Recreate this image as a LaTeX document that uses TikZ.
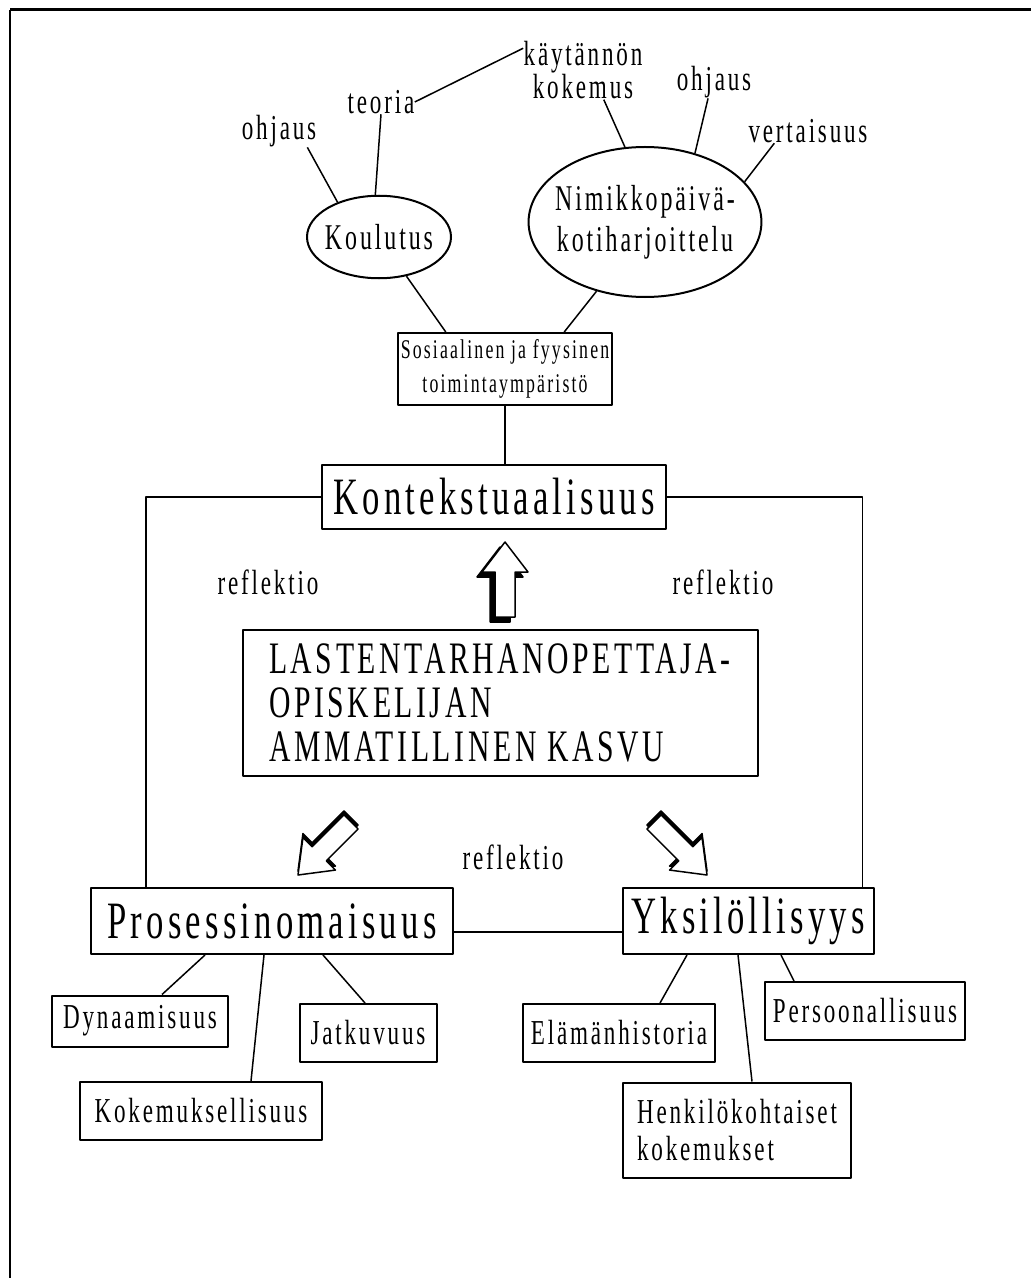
\documentclass[tikz,border=0pt]{standalone}
\usepackage{fontspec}
\setmainfont{Liberation Serif}[FakeStretch=0.66,LetterSpace=8]
\usetikzlibrary{shapes.geometric}

\tikzset{
  pics/blockarrow/.style={code={
    \draw[pic actions] (0,0) -- (23,30) -- (10,30) -- (10,75) -- (-10,75) -- (-10,30) -- (-23,30) -- cycle;
  }},
}

\begin{document}
\begin{tikzpicture}[x=0.4pt,y=-0.4pt,line join=round,
  word/.style={inner sep=0pt,font=\fontsize{14}{13.5}\selectfont,align=center},
  box/.style={draw,line width=0.8pt,inner sep=0pt,font=\fontsize{14}{15}\selectfont,align=center},
  bigbox/.style={box,font=\fontsize{21}{24}\selectfont},
  oval/.style={draw,ellipse,line width=0.8pt,inner xsep=-3pt,inner ysep=0pt,align=center},
  link/.style={line width=0.6pt}]
\useasboundingbox (0,0) rectangle (1031,1278);
% frame
\draw[line width=1.2pt] (10,10) -- (1031,10);
\draw[line width=0.7pt] (10,10) -- (10,1278);

% upper part
\node[word] (ohjL) at (279,131) {ohjaus};
\node[word] (teo) at (381,102) {teoria};
\node[word] (kayt) at (583,70) {käytännön\\kokemus};
\node[word] (ohjR) at (714,82) {ohjaus};
\node[word] (vert) at (808,131) {vertaisuus};
\node[oval,minimum width=57.6pt,minimum height=33pt,font=\fontsize{14.5}{15}\selectfont] (kou) at (379,237) {Koulutus};
\node[oval,minimum width=85.6pt,minimum height=60pt,font=\fontsize{14.5}{16.5}\selectfont] (nim) at (645,222) {Nimikkopäivä-\\kotiharjoittelu};
\node[box,minimum width=85.6pt,minimum height=28.8pt,font=\fontsize{10.8}{13.5}\selectfont] (sos) at (505,369) {Sosiaalinen ja fyysinen\\toimintaympäristö};

\draw[link] (ohjL.-30) -- (kou.140);
\draw[link] (teo.south) -- (kou.95);
\draw[link] (teo.east) -- (kayt.160);
\draw[link] (kayt.-55) -- (nim.105);
\draw[link] (ohjR.-110) -- (nim.54);
\draw[link] (vert.-160) -- (nim.22);
\draw[link] (kou.-55) -- (sos.148);
\draw[link] (nim.235) -- (sos.32);

% middle
\node[bigbox,minimum width=137.6pt,minimum height=25.6pt] (kon) at (494,497) {Kontekstuaalisuus};
\node[box,minimum width=206pt,minimum height=58.4pt,font=\fontsize{18}{17.5}\selectfont,align=left] (ktk) at (500,703) {LASTENTARHANOPETTAJA-\\OPISKELIJAN\\AMMATILLINEN KASVU};
\node[word] (rL) at (268,582) {reflektio};
\node[word] (rR) at (723,582) {reflektio};
\node[word] (rM) at (513,857) {reflektio};

\draw[link] (sos.south) -- (sos.south |- kon.north);

\pic[fill=black,draw=black,link] at (500,547) {blockarrow};
\pic[fill=white,draw=black,link] at (505,542) {blockarrow};
\pic[rotate=135,fill=black,draw=black,link] at (298,871) {blockarrow};
\pic[rotate=135,fill=white,draw=black,link] at (298,875) {blockarrow};
\pic[rotate=-135,fill=black,draw=black,link] at (707,871) {blockarrow};
\pic[rotate=-135,fill=white,draw=black,link] at (707,875) {blockarrow};

% lower part
\node[bigbox,minimum width=144.8pt,minimum height=26.4pt] (pros) at (272,921) {Prosessinomaisuus};
\node[bigbox,minimum width=100.4pt,minimum height=26.4pt] (yks) at (748,921) {Yksilöllisyys};
\node[box,minimum width=70.4pt,minimum height=20.4pt] (dyn) at (140,1021) {Dynaamisuus};
\node[box,minimum width=54.8pt,minimum height=23.2pt] (jat) at (368,1033) {Jatkuvuus};
\node[box,minimum width=96.8pt,minimum height=23.2pt] (kok) at (201,1111) {Kokemuksellisuus};
\node[box,minimum width=76.8pt,minimum height=23.2pt] (ela) at (619,1033) {Elämänhistoria};
\node[box,minimum width=80pt,minimum height=23.2pt] (per) at (865,1011) {Persoonallisuus};
\node[box,minimum width=91.2pt,minimum height=38pt,align=left,font=\fontsize{14}{14.8}\selectfont] (hen) at (737,1130) {Henkilökohtaiset\\kokemukset};

\draw[link] (kon.west) -| ([xshift=22.4pt]pros.north west);
\draw[link] (kon.east) -| ([xshift=-4.8pt]yks.north east);
\draw[link] ([yshift=-4.4pt]pros.east) -- ([yshift=-4.4pt]yks.west);

\draw[link] ([xshift=-26.8pt]pros.south) -- ([xshift=8.8pt]dyn.north);
\draw[link] ([xshift=-3.2pt]pros.south) -- ([xshift=20pt]kok.north);
\draw[link] ([xshift=20.4pt]pros.south) -- ([xshift=-1.2pt]jat.north);
\draw[link] ([xshift=-24.4pt]yks.south) -- ([xshift=16.4pt]ela.north);
\draw[link] ([xshift=-4pt]yks.south) -- ([xshift=6pt]hen.north);
\draw[link] ([xshift=13.2pt]yks.south) -- ([xshift=-28.4pt]per.north);
\end{tikzpicture}
\end{document}
